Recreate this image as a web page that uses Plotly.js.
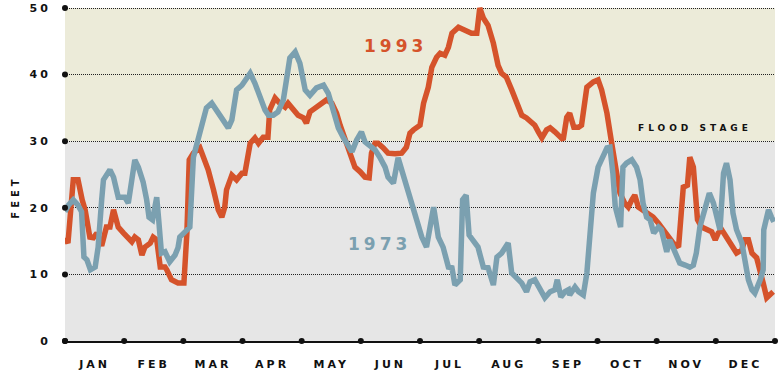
<!DOCTYPE html>
<html><head><meta charset="utf-8">
<script src="https://cdn.plot.ly/plotly-3.0.1.min.js"></script>
<style>
html,body{margin:0;padding:0;background:#fff;}
#chart{width:782px;height:381px;}
#chart svg text{letter-spacing:3px;}
#chart .annotation-text{letter-spacing:4px;}
</style></head><body><div id="chart"></div>
<script>
const months = ['JAN','FEB','MAR','APR','MAY','JUN','JUL','AUG','SEP','OCT','NOV','DEC'];
const monthCenters = [0.5,1.5,2.5,3.5,4.5,5.5,6.5,7.5,8.5,9.5,10.5,11.5];
const monthEdges = [0,1,2,3,4,5,6,7,8,9,10,11,12];
const yTicks = [0,10,20,30,40,50];
const floodStage = 30;

const x1993 = [0,0.05,0.14,0.22,0.29,0.34,0.42,0.48,0.54,0.62,0.70,0.76,0.82,0.90,0.99,
1.07,1.13,1.18,1.24,1.30,1.35,1.44,1.49,1.55,1.61,1.69,1.72,1.80,1.91,2.01,
2.06,2.10,2.17,2.28,2.34,2.42,2.51,2.59,2.65,2.70,2.73,2.82,2.90,2.99,3.04,
3.13,3.21,3.27,3.35,3.43,3.46,3.55,3.63,3.72,3.77,3.86,3.94,4.03,4.08,4.14,4.23,4.34,4.42,4.51,4.59,4.65,4.73,4.82,4.90,4.99,5.07,5.14,
5.18,5.24,5.29,5.38,5.46,5.58,5.69,5.77,5.83,5.89,5.94,6.00,6.06,6.14,6.20,
6.28,6.34,6.42,6.48,6.54,6.65,6.76,6.87,6.96,7.01,7.07,7.15,7.24,7.32,7.38,7.46,7.55,7.63,7.69,7.72,7.80,7.86,7.94,8.00,8.06,
8.14,8.20,8.28,8.37,8.42,8.48,8.53,8.60,8.68,8.73,8.82,8.93,9.01,9.07,9.16,9.24,9.32,9.38,9.46,9.52,9.58,9.63,9.69,9.75,9.86,9.94,
10.03,10.11,10.20,10.28,10.37,10.42,10.45,10.52,10.56,10.62,10.65,10.69,10.76,10.85,10.93,10.99,11.04,11.10,11.18,11.27,11.35,11.44,11.49,11.55,11.61,11.69,11.75,11.80,11.86,11.92,11.97];
const y1993 = [15.5,14.7,24.2,24.2,21.2,19.7,15.6,15.5,16.2,14.3,17.1,17.1,19.7,17.1,16.2,
15.6,14.9,15.6,15.2,12.9,14.1,14.7,15.6,15.2,11.1,11.1,10.7,9.2,8.7,8.7,
16.2,27.2,28.2,29,27.6,25.7,22.7,19.7,18.6,20.1,22.7,24.9,24.2,25.2,25.2,
29.7,30.5,29.7,30.6,30.6,34.7,36.5,35.7,35.1,35.7,34.7,33.9,33.5,32.7,34.4,35,35.7,36.2,35.7,34.2,32.4,30.2,28.2,26.1,25.4,24.6,24.5,
28.2,29.7,29.7,29,28.2,28.1,28.2,29.1,31.2,31.7,32.1,32.4,35.7,38.1,41.1,
42.6,43.2,42.9,44.1,46.2,47.1,46.7,46.2,46.2,50,48.5,47.4,44.7,41.4,40.2,39.6,37.7,35.7,34.7,33.9,33.5,32.9,32.4,31.4,30.5,
31.7,32,31.4,30.6,30.2,33.6,34.2,32.1,32.1,32.4,38.1,38.9,39.2,37.7,34.2,29.7,24.6,22.2,20.7,20.1,21.2,21.9,20.1,19.7,19.2,18.6,
17.7,16.7,15.6,14.7,14.1,18.6,23.1,23.4,27.6,26.1,22.7,18.2,17.1,16.7,16.4,15.2,16.2,16.7,15.6,14.4,13.2,13.7,15.2,15.2,13.2,12.5,10.7,8.7,6.5,6.9,7.4];

const x1973 = [0,0.06,0.14,0.22,0.28,0.32,0.37,0.43,0.51,0.56,0.62,0.65,0.76,0.82,
0.90,1.01,1.07,1.13,1.18,1.24,1.32,1.38,1.42,1.48,1.55,1.58,1.63,1.69,1.77,1.86,1.91,1.94,
2.06,2.11,2.17,2.25,2.34,2.39,2.48,2.56,2.68,2.76,2.82,2.90,2.99,3.07,3.13,
3.21,3.30,3.38,3.44,3.52,3.60,3.69,3.75,3.80,3.89,3.97,4.06,4.14,4.25,4.37,4.45,4.53,4.62,4.70,4.79,4.85,4.93,5.01,
5.07,5.15,5.24,5.32,5.41,5.46,5.55,5.63,5.69,5.77,5.86,5.94,6.03,6.11,
6.17,6.23,6.31,6.39,6.48,6.54,6.59,6.68,6.72,6.78,6.83,6.90,6.98,7.07,7.15,7.24,
7.30,7.38,7.44,7.49,7.55,7.63,7.72,7.80,7.86,7.94,8.03,8.11,8.20,8.28,8.32,8.38,8.45,8.51,8.53,8.62,8.68,8.76,
8.82,8.87,8.93,9.01,9.10,9.16,9.21,9.26,9.30,9.35,9.39,9.43,9.49,9.58,9.66,9.72,9.77,9.83,9.89,9.95,
10.03,10.08,10.17,10.22,10.31,10.39,10.48,10.56,10.62,10.67,10.73,10.82,10.89,10.96,11.02,11.07,11.13,11.18,11.24,11.29,11.35,11.44,11.49,11.55,11.61,11.66,11.75,11.80,11.81,11.89,11.94,11.98];
const y1973 = [19.4,20.4,21.2,20.4,19.4,12.6,12.2,10.7,11.1,14.1,21.2,24.2,25.7,24.6,
21.6,21.6,20.7,24.2,27.2,26.1,23.9,21.2,18.6,18.2,21.6,18.6,13.2,13.4,11.9,12.9,14,15.6,
16.7,17.1,27.6,30.6,33.2,35,35.7,34.7,32.9,32,33.2,37.7,38.4,39.5,40.2,
38.7,36.6,34.7,33.9,33.9,34.4,36.2,39.6,42.5,43.4,41.7,37.7,36.9,38,38.4,37.2,34.7,32,30.6,29.1,28.4,30.2,31.4,
29.9,29.4,28.7,27.6,26.1,24.6,23.7,27.5,25.7,22.7,20.1,18.2,15.6,14.1,
17.5,20.1,15.6,14.1,11.1,11,8.4,9.2,21.2,21.9,15.9,15.2,14.1,11.1,11,8.4,
12.6,13.2,14.1,14.7,10.2,9.6,8.7,7.4,8.9,9.2,7.7,6.5,7.4,7.7,9.2,6.6,7.4,7.7,6.9,8.1,7.4,6.9,
10.2,17.1,22.2,26.1,27.6,29,29.1,25.2,20.2,18.2,17.1,26.1,26.7,27.2,26.1,24.2,20.7,18.6,18.2,16.2,
17.1,16.7,13.4,15.2,13.2,11.7,11.4,11.1,11.4,13.2,17.1,20.1,22.2,20.7,18.6,16.7,25.2,26.7,24.2,19.2,16.7,14.7,12.2,9.2,7.7,7.2,9.2,10.7,16.7,19.7,18.6,17.9];

const RED = '#d5532b', BLUE = '#7ba0b0';
const FONT = 'DejaVu Sans';

const dotX = yTicks.map(() => 0).concat(monthEdges);
const dotY = yTicks.concat(monthEdges.map(() => 0));

const traces = [
  {x: x1993, y: y1993, mode: 'lines', line: {color: RED, width: 5.5}, hoverinfo: 'skip'},
  {x: x1973, y: y1973, mode: 'lines', line: {color: BLUE, width: 5.5}, hoverinfo: 'skip'},
  {x: dotX, y: dotY, mode: 'markers', marker: {color: '#111', size: 6}, cliponaxis: false, hoverinfo: 'skip'}
];

const layout = {
  width: 782, height: 381,
  margin: {l: 65, r: 7, t: 6, b: 40},
  paper_bgcolor: '#fff', plot_bgcolor: '#fff',
  showlegend: false,
  font: {family: FONT, size: 10, color: '#111', weight: 'bold'},
  xaxis: {range: [0, 12], tickvals: monthCenters, ticktext: months, ticks: 'outside', ticklen: 12,
          tickcolor: 'rgba(0,0,0,0)', showgrid: false, zeroline: false, showline: true,
          linecolor: '#111', linewidth: 2, tickfont: {family: FONT, size: 11, color: '#111', weight: 'bold'}, fixedrange: true},
  yaxis: {range: [0, 50.3], tickvals: yTicks, ticks: 'outside', ticklen: 11, tickcolor: 'rgba(0,0,0,0)',
          showgrid: true, gridcolor: '#222', griddash: '1px,1px', gridwidth: 1, zeroline: false, showline: false,
          tickfont: {family: FONT, size: 11, color: '#111', weight: 'bold'}, fixedrange: true},
  shapes: [
    {type: 'rect', xref: 'x', yref: 'y', x0: 0, x1: 12, y0: 0, y1: floodStage, fillcolor: '#e6e6e6', line: {width: 0}, layer: 'below'},
    {type: 'rect', xref: 'x', yref: 'y', x0: 0, x1: 12, y0: floodStage, y1: 50, fillcolor: '#ecebd9', line: {width: 0}, layer: 'below'}
  ],
  annotations: [
    {x: 5.58, y: 44.3, xref: 'x', yref: 'y', text: '1993', showarrow: false, font: {family: FONT, size: 17, color: RED, weight: 'bold'}},
    {x: 5.32, y: 14.6, xref: 'x', yref: 'y', text: '1973', showarrow: false, font: {family: FONT, size: 17, color: BLUE, weight: 'bold'}},
    {x: 10.65, y: 32, xref: 'x', yref: 'y', text: 'FLOOD STAGE', showarrow: false, font: {family: FONT, size: 9, color: '#111', weight: 'bold'}},
    {x: 0, y: 21.6, xref: 'paper', yref: 'y', xshift: -57, text: 'FEET', textangle: -90, showarrow: false, font: {family: FONT, size: 10, color: '#111', weight: 'bold'}}
  ]
};

Plotly.newPlot('chart', traces, layout, {displayModeBar: false, staticPlot: true});
</script></body></html>
